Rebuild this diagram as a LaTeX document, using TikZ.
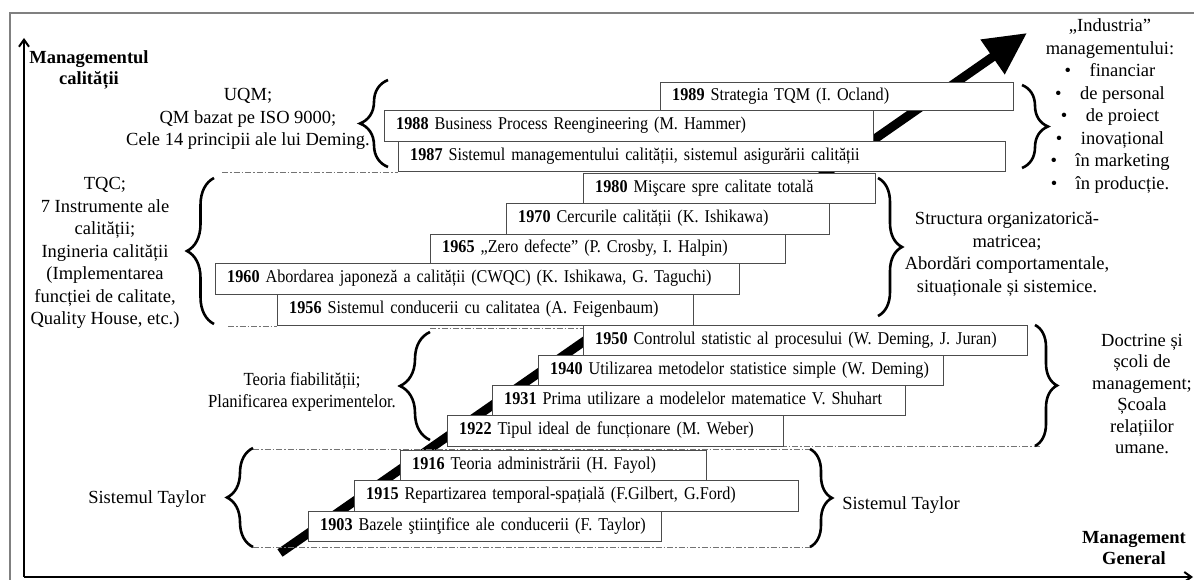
\documentclass[tikz,border=0pt]{standalone}
\usepackage{fontspec}
\setmainfont{Liberation Serif}
\newfontfamily\boxfont[FakeStretch=0.9]{Liberation Serif}
\usetikzlibrary{arrows.meta,decorations.pathreplacing}
\newcommand{\yr}[2]{\mbox{\textbf{#1} #2}}
\tikzset{
  yearbox/.style={draw=black!70, fill=white, anchor=north west, inner xsep=12pt,
    text width=#1, align=left, minimum height=30pt, text height=12pt, text depth=4pt,
    font=\boxfont\fontsize{18}{20}\selectfont},
  sidetext/.style={align=center, font=\fontsize{18.5}{22.5}\selectfont},
  axistitle/.style={align=center, font=\bfseries\fontsize{18.5}{21}\selectfont},
  grpbrace/.style={decorate, decoration={brace, amplitude=#1}, line width=2.6pt},
  sepline/.style={black!55, line width=0.8pt, dash pattern=on 6pt off 2pt on 1.5pt off 2pt},
}
\begin{document}
\begin{tikzpicture}[x=1pt,y=-1pt]
  \useasboundingbox (0,0) rectangle (1194,580);
  % frame and axes
  \draw[black!50, line width=1.5pt] (10,600) -- (10,13) -- (1210,13);
  \draw[line width=2pt, -{Straight Barb[length=7pt,width=10pt]}] (24,577) -- (24,38);
  \draw[line width=2pt, -{Straight Barb[length=7pt,width=10pt]}] (24,577) -- (1193,577);
  \node[axistitle] (ymgmt) at (89,70) {Managementul\\calității};
  \node[axistitle] (xmgmt) at (1134,548) {Management\\General};
  % evolution arrow
  \draw[line width=9pt, -{Triangle[length=42pt,width=40pt]}] (280,553) -- (1027,33);
  % group limits
  \draw[sepline] (222,172) -- (398,172);
  \draw[sepline] (228,326) -- (277,326);
  \draw[sepline] (430,328) -- (583,328);
  \draw[sepline] (447,446) -- (1040,446);
  \draw[sepline] (253,449) -- (812,449);
  \draw[sepline] (253,547) -- (812,547);
  % 1987 - 1989
  \node[yearbox=329pt, minimum height=28pt] (b1989) at (660,82) {\yr{1989}{Strategia TQM (I. Ocland)}};
  \node[yearbox=465pt, minimum height=31pt] (b1988) at (384,110) {\yr{1988}{Business Process Reengineering (M. Hammer)}};
  \node[yearbox=583pt] (b1987) at (398,141) {\yr{1987}{Sistemul managementului calității, sistemul asigurării calității}};
  % 1956 - 1980
  \node[yearbox=268pt] (b1980) at (583,173) {\yr{1980}{Mişcare spre calitate totală}};
  \node[yearbox=299pt, minimum height=31pt] (b1970) at (506,203) {\yr{1970}{Cercurile calității (K. Ishikawa)}};
  \node[yearbox=331pt, minimum height=29pt] (b1965) at (430,234) {\yr{1965}{„Zero defecte” (P. Crosby, I. Halpin)}};
  \node[yearbox=500pt, minimum height=31pt] (b1960) at (215,263) {\yr{1960}{Abordarea japoneză a calității (CWQC) (K. Ishikawa, G. Taguchi)}};
  \node[yearbox=392pt, minimum height=31pt] (b1956) at (277,294) {\yr{1956}{Sistemul conducerii cu calitatea (A. Feigenbaum)}};
  % 1922 - 1950
  \node[yearbox=420pt] (b1950) at (583,325) {\yr{1950}{Controlul statistic al procesului (W. Deming, J. Juran)}};
  \node[yearbox=381pt] (b1940) at (538,355) {\yr{1940}{Utilizarea metodelor statistice simple (W. Deming)}};
  \node[yearbox=389pt] (b1931) at (492,385) {\yr{1931}{Prima utilizare a modelelor matematice V. Shuhart}};
  \node[yearbox=312pt, minimum height=31pt] (b1922) at (447,415) {\yr{1922}{Tipul ideal de funcționare (M. Weber)}};
  % 1903 - 1916
  \node[yearbox=282pt] (b1916) at (400,450) {\yr{1916}{Teoria administrării (H. Fayol)}};
  \node[yearbox=420pt, minimum height=31pt] (b1915) at (354,480) {\yr{1915}{Repartizarea temporal-spațială (F.Gilbert, G.Ford)}};
  \node[yearbox=329pt] (b1903) at (308,511) {\yr{1903}{Bazele ştiinţifice ale conducerii (F. Taylor)}};
  % braces
  \draw[grpbrace=28pt] (388,167) -- (388,80);
  \draw[grpbrace=26pt] (1022,85) -- (1022,168);
  \draw[grpbrace=27pt] (214,324) -- (214,178);
  \draw[grpbrace=24pt] (878,178) -- (878,316);
  \draw[grpbrace=30pt] (430,440) -- (430,332);
  \draw[grpbrace=22pt] (1035,325) -- (1035,446);
  \draw[grpbrace=26pt] (253,547) -- (253,448);
  \draw[grpbrace=22pt] (810,449) -- (810,547);
  % side texts
  \node[sidetext] (uqm) at (248,119) {UQM;\\QM bazat pe ISO 9000;\\Cele 14 principii ale lui Deming.};
  \node[sidetext] (tqc) at (105,253) {TQC;\\7 Instrumente ale\\calității;\\Ingineria calității\\(Implementarea\\funcției de calitate,\\Quality House, etc.)};
  \node[sidetext] (industria) at (1110,106) {„Industria”\\managementului:\\\textbullet\quad financiar\\\textbullet\quad de personal\\\textbullet\quad de proiect\\\textbullet\quad inovațional\\\textbullet\quad în marketing\\\textbullet\quad în producție.};
  \node[sidetext] (structura) at (1007,254) {Structura organizatorică-\\matricea;\\Abordări comportamentale,\\situaționale și sistemice.};
  \node[sidetext, font=\boxfont\fontsize{18.5}{22.5}\selectfont] (teoria) at (302,392) {Teoria fiabilității;\\Planificarea experimentelor.};
  \node[sidetext, font=\fontsize{18.5}{21.4}\selectfont] (doctrine) at (1142,394) {Doctrine și\\școli de\\management;\\Școala\\relațiilor\\umane.};
  \node[sidetext] (taylorL) at (147,499) {Sistemul Taylor};
  \node[sidetext] (taylorR) at (901,505) {Sistemul Taylor};
\end{tikzpicture}
\end{document}
